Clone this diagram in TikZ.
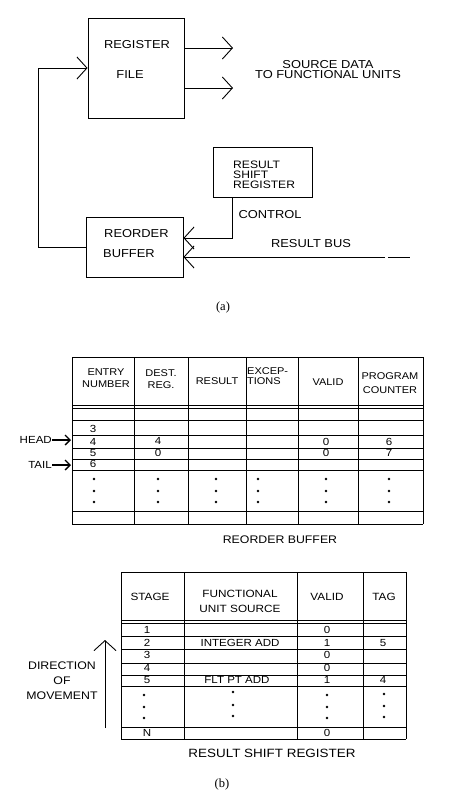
\documentclass[tikz,border=0pt]{standalone}
\usepackage{fontspec}
\setmainfont{Liberation Sans}[FakeStretch=1.12]
\newfontfamily\capfont{Liberation Serif}
\usetikzlibrary{positioning, arrows.meta, calc}

\begin{document}
\begin{tikzpicture}[
    x=1pt, y=-1pt,
    every node/.style={inner sep=0pt, font=\fontsize{11.5}{10}\selectfont},
    box/.style={draw, line width=0.9pt},
    hdr/.style={font=\fontsize{9.8}{12}\selectfont, align=center},
    cell/.style={font=\fontsize{10.3}{12}\selectfont},
    capt/.style={font=\fontsize{11}{13}\selectfont},
    fig/.style={font=\capfont\fontsize{12.5}{13}\selectfont},
    rule/.style={line width=0.8pt},
    arr/.style={-{Straight Barb[length=10pt, width=22pt]}, line width=0.9pt},
    ptr/.style={-{Straight Barb[length=5pt, width=10pt]}, line width=1.3pt},
]
\useasboundingbox (0,0) rectangle (468,804);

% ── (a) Blocks ───────────────────────────────────────────────────────────────
\node[box, minimum width=96pt, minimum height=100pt] (regfile) at (136,68) {};
\node (rflbl1) at (137,45) {REGISTER};
\node (rflbl2) at (130,75) {FILE};

\node[box, minimum width=99pt, minimum height=50pt] (rsr) at (262.5,172) {};
\node[anchor=west, align=left, font=\fontsize{10.8}{10}\selectfont] (rsrlbl) at (233,174.5) {RESULT\\SHIFT\\REGISTER};

\node[box, minimum width=97pt, minimum height=60pt] (rob) at (134.5,247) {};
\node[anchor=west] (roblbl1) at (104,234) {REORDER};
\node[anchor=west] (roblbl2) at (103,254) {BUFFER};

\node[align=center] (srcdata) at (328,70) {SOURCE DATA\\TO FUNCTIONAL UNITS};
\node (ctrl) at (270,215) {CONTROL};
\node (bus) at (311,244) {RESULT BUS};
\node[fig] (capa) at (223,307) {(a)};

% ── (a) Arrows ───────────────────────────────────────────────────────────────
\coordinate (out1) at (233,48);
\coordinate (out2) at (233,88);
\draw[arr] (out1 -| regfile.east) -- (out1);
\draw[arr] (out2 -| regfile.east) -- (out2);
\coordinate (loop) at (38,247);
\draw[arr] (rob.west) -- (loop) |- (regfile.west);
\draw[arr] ([xshift=-30.5pt]rsr.south) |- ([yshift=9pt]rob.east);
\coordinate (busfar) at (385,257);
\coordinate (busdash) at (388,257);
\coordinate (busend) at (410,257);
\draw[arr] (busfar) -- (busfar -| rob.east);
\draw[line width=0.9pt] (busdash) -- (busend);

% ── (b) Reorder buffer ───────────────────────────────────────────────────────
\foreach \x in {72,134,188,246,298,358,423}
    \draw[rule] (\x,357) -- (\x,524);
\foreach \y in {357,405,408,420,435,448,459,470,511,524}
    \draw[rule] (72,\y) -- (423,\y);

\node[hdr] (hentry) at (106,378) {ENTRY\\NUMBER};
\node[hdr] (hdest) at (161,379) {DEST.\\REG.};
\node[hdr] (hres) at (217,381) {RESULT};
\node[hdr, align=left, anchor=west, font=\fontsize{9.8}{9.5}\selectfont] (hexc) at (247,376) {EXCEP-\\TIONS};
\node[hdr] (hval) at (328,382) {VALID};
\node[hdr, font=\fontsize{9.8}{14}\selectfont] (hpc) at (390,383) {PROGRAM\\COUNTER};

\foreach \n/\y in {3/429, 4/442, 5/453, 6/464}
    \node[cell] (entry\n) at (93,\y) {\n};
\node[cell] (dest4) at (158,441) {4};
\node[cell] (dest5) at (158,453) {0};
\node[cell] (val4) at (326,442) {0};
\node[cell] (val5) at (326,453) {0};
\node[cell] (pc4) at (389,442) {6};
\node[cell] (pc5) at (389,453) {7};
\foreach \x in {94,158,216,258,326,389}
    \foreach \y in {479,491,502}
        \fill (\x,\y) circle (1.4pt);

\node[cell, anchor=east] (head) at (52,440) {HEAD};
\node[cell, anchor=east] (tail) at (52,465) {TAIL};
\coordinate (headpt) at (71,440);
\coordinate (tailpt) at (71,465);
\draw[ptr] (head) -- (headpt);
\draw[ptr] (tail) -- (tailpt);

\node[capt] (robcap) at (280,540) {REORDER BUFFER};

% ── (b) Result shift register ────────────────────────────────────────────────
\foreach \x in {121,184,297,363,406}
    \draw[rule] (\x,572) -- (\x,739);
\foreach \y in {572,620,623,636,649,663,675,686,727,739}
    \draw[rule] (121,\y) -- (406,\y);

\node[hdr, font=\fontsize{10.5}{15}\selectfont] (hstage) at (150,597) {STAGE};
\node[hdr, font=\fontsize{10.5}{15}\selectfont] (hfu) at (240,601.5) {FUNCTIONAL\\UNIT SOURCE};
\node[hdr, font=\fontsize{10.5}{15}\selectfont] (hvalid) at (327,597) {VALID};
\node[hdr, font=\fontsize{10.5}{15}\selectfont] (htag) at (384,597) {TAG};

\foreach \n/\v/\y in {1/0/630, 2/1/643, 3/0/655, 4/0/668, 5/1/680, N/0/733} {
    \node[cell] (stage\n) at (147,\y) {\n};
    \node[cell] (valid\n) at (327,\y) {\v};
}
\node[cell] (fu2) at (240,643) {INTEGER ADD};
\node[cell] (fu5) at (237,680) {FLT PT ADD};
\node[cell] (tag2) at (383,643) {5};
\node[cell] (tag5) at (383,680) {4};
\foreach \x/\a/\b/\c in {144/695/707/718, 233/692/705/716, 327/695/707/718, 384/694/706/717}
    \foreach \y in {\a,\b,\c}
        \fill (\x,\y) circle (1.4pt);

\node[align=center, font=\fontsize{11}{15}\selectfont] (dirlbl) at (62,681) {DIRECTION\\OF\\MOVEMENT};
\coordinate (dirfoot) at (105,728);
\coordinate (dirtip) at (105,640);
\draw[arr] (dirfoot) -- (dirtip);

\node[capt, font=\fontsize{12}{13}\selectfont] (rsrcap) at (272,753) {RESULT SHIFT REGISTER};
\node[fig] (capb) at (222,784) {(b)};

\end{tikzpicture}
\end{document}
